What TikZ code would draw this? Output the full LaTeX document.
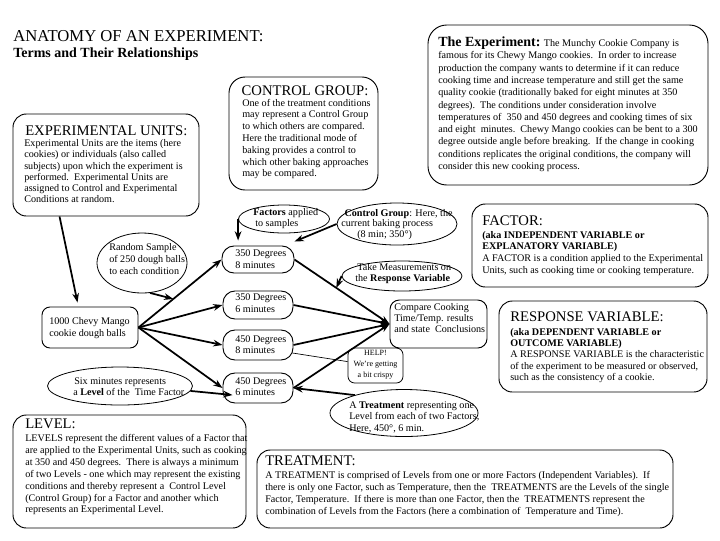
\documentclass[tikz,border=0pt]{standalone}
\usepackage{fontspec}
\setmainfont{Liberation Serif}
\usetikzlibrary{arrows.meta,calc,fit,shapes.geometric}
\newcommand{\Lft}[1]{\vtop{\halign{##\hfil\cr#1\crcr}}}
\newcommand{\Ctr}[1]{\vtop{\halign{\hfil##\hfil\cr#1\crcr}}}
\tikzset{
  rbox/.style={draw, line width=0.7pt, rounded corners=10pt, inner sep=0pt},
  ell/.style={draw, ellipse, line width=0.6pt, inner sep=0pt},
  txt/.style={inner sep=0pt, anchor=base west},
  ttl/.style={inner sep=0pt, anchor=base west, font=\fontsize{11}{13}\selectfont},
  arr/.style={line width=1.3pt, -{Stealth[length=7pt,width=5pt]}},
}
\begin{document}
\begin{tikzpicture}[x=0.75pt,y=-0.75pt]
\fill[white] (0,0) rectangle (720,540);
\useasboundingbox (0,0) rectangle (720,540);

% titles
\node[txt, font=\fontsize{12.5}{14}\selectfont] (t1) at (13,41.7) {ANATOMY OF AN EXPERIMENT:};
\node[txt, font=\bfseries\fontsize{10.5}{12}\selectfont] (t2) at (13,57) {Terms and Their Relationships};

% The experiment
\node[rbox, rounded corners=14pt, fit={(428,25) (708,185)}] (exp) {};
\node[txt, font=\fontsize{7.6}{9.2}\selectfont] (expt) at (438,46.7) {\Lft{%
{\bfseries\fontsize{10.5}{12}\selectfont The Experiment:} The Munchy Cookie Company is\cr
famous for its Chewy Mango cookies.\ \ In order to increase\cr
production the company wants to determine if it can reduce\cr
cooking time and increase temperature and still get the same\cr
quality cookie (traditionally baked for eight minutes at 350\cr
degrees).\ \ The conditions under consideration involve\cr
temperatures of \ 350 and 450 degrees and cooking times of six\cr
and eight \ minutes.\ \ Chewy Mango cookies can be bent to a 300\cr
degree outside angle before breaking.\ \ If the change in cooking\cr
conditions replicates the original conditions, the company will\cr
consider this new cooking process.}};

% Control group
\node[rbox, rounded corners=12pt, fit={(229,77) (378,190)}] (cgb) {};
\node[inner sep=0pt, anchor=base, font=\fontsize{11}{13}\selectfont] (cgtitle) at (305,95.7) {CONTROL GROUP:};
\node[txt, font=\fontsize{7.6}{8.85}\selectfont] (cgtext) at (242,106) {\Lft{%
One of the treatment conditions\cr
may represent a Control Group\cr
to which others are compared.\cr
Here the traditional mode of\cr
baking provides a control to\cr
which other baking approaches\cr
may be compared.}};

% Experimental units
\node[rbox, fit={(13,114) (199,216)}] (eu) {};
\node[ttl] (eutitle) at (25,135) {EXPERIMENTAL UNITS:};
\node[txt, font=\fontsize{7.6}{8.4}\selectfont] (eutext) at (24,146.7) {\Lft{%
Experimental Units are the items (here\cr
cookies) or individuals (also called\cr
subjects) upon which the experiment is\cr
performed.\ \ Experimental Units are\cr
assigned to Control and Experimental\cr
Conditions at random.}};

% Factor
\node[rbox, fit={(472,204) (708,287)}] (fac) {};
\node[ttl] (factitle) at (482,225) {FACTOR:};
\node[txt, font=\fontsize{7.6}{8.75}\selectfont] (factext) at (482,238) {\Lft{%
\textbf{(aka INDEPENDENT VARIABLE or}\cr
\textbf{EXPLANATORY VARIABLE)}\cr
A FACTOR is a condition applied to the Experimental\cr
Units, such as cooking time or cooking temperature.}};

% Response variable
\node[rbox, fit={(499,301) (707,392)}] (resp) {};
\node[ttl] (resptitle) at (510,321.7) {RESPONSE VARIABLE:};
\node[txt, font=\fontsize{7.6}{8.6}\selectfont] (resptext) at (510,335) {\Lft{%
\textbf{(aka DEPENDENT VARIABLE or}\cr
\textbf{OUTCOME VARIABLE)}\cr
A RESPONSE VARIABLE is the characteristic\cr
of the experiment to be measured or observed,\cr
such as the consistency of a cookie.}};

% Level
\node[rbox, fit={(13,415) (246,528)}] (lev) {};
\node[ttl] (levtitle) at (25,428) {LEVEL:};
\node[txt, font=\fontsize{7.6}{8.9}\selectfont] (levtext) at (25,441.7) {\Lft{%
LEVELS represent the different values of a Factor that\cr
are applied to the Experimental Units, such as cooking\cr
at 350 and 450 degrees.\ \ There is always a minimum\cr
of two Levels - one which may represent the existing\cr
conditions and thereby represent a \ Control Level\cr
(Control Group) for a Factor and another which\cr
represents an Experimental Level.}};

% Treatment
\node[rbox, fit={(257,450) (673,528)}] (trt) {};
\node[ttl] (trttitle) at (265,465) {TREATMENT:};
\node[txt, font=\fontsize{7.6}{9}\selectfont] (trttext) at (265,478) {\Lft{%
A TREATMENT is comprised of Levels from one or more Factors (Independent Variables).\ \ If\cr
there is only one Factor, such as Temperature, then the \ TREATMENTS are the Levels of the single\cr
Factor, Temperature.\ \ If there is more than one Factor, then the \ TREATMENTS represent the\cr
combination of Levels from the Factors (here a combination of \ Temperature and Time).}};

% Mango box
\node[rbox, rounded corners=6pt, fit={(42,307) (138,348)}] (mango) {};
\node[txt, font=\fontsize{7.6}{9}\selectfont] (mangot) at (49,324) {\Lft{1000 Chevy Mango\cr cookie dough balls}};

% degree boxes
\node[rbox, rounded corners=9pt, fit={(222,246) (294,273)}] (b1) {};
\node[rbox, rounded corners=9pt, fit={(223,291) (293,319)}] (b2) {};
\node[rbox, rounded corners=9pt, fit={(223,330) (293,360)}] (b3) {};
\node[rbox, rounded corners=9pt, fit={(223,373) (293,403)}] (b4) {};
\node[txt, font=\fontsize{7.6}{8.5}\selectfont] (b1t) at (235,256.7) {\Lft{350 Degrees\cr 8 minutes}};
\node[txt, font=\fontsize{7.6}{8.5}\selectfont] (b2t) at (235,300.7) {\Lft{350 Degrees\cr 6 minutes}};
\node[txt, font=\fontsize{7.6}{8.5}\selectfont] (b3t) at (235,342.3) {\Lft{450 Degrees\cr 8 minutes}};
\node[txt, font=\fontsize{7.6}{8.5}\selectfont] (b4t) at (235,384.3) {\Lft{450 Degrees\cr 6 minutes}};

% compare box
\node[rbox, rounded corners=7pt, fit={(390,300) (487,348)}] (cmp) {};
\node[txt, font=\fontsize{7.6}{8.6}\selectfont] (cmpt) at (394,310) {\Lft{Compare Cooking\cr Time/Temp. results\cr and state \ Conclusions}};

% help box
\node[rbox, rounded corners=5pt, line width=0.6pt, fit={(348,348) (403,383)}] (help) {};
\node[inner sep=0pt, anchor=base, font=\fontsize{6}{8.3}\selectfont] (helpt) at (375.5,355) {\Ctr{HELP!\cr We're getting\cr a bit crispy}};

% ellipses
\node[ell, minimum width=68.25pt, minimum height=21pt] (fa) at (284,219) {};
\node[txt, font=\fontsize{7.6}{8}\selectfont] (fat) at (253,215.7) {\Lft{\textbf{Factors} applied\cr \hskip1.5pt to samples}};
\node[ell, minimum width=90pt, minimum height=31.5pt] (cg) at (397,224) {};
\node[txt, font=\fontsize{7.6}{8.1}\selectfont] (cgt) at (341,216) {\Lft{\hskip2.5pt\textbf{Control Group}: Here, the\cr current baking process\cr \hskip12pt (8 min; 350°)}};
\node[ell, minimum width=90pt, minimum height=22.5pt] (tm) at (402,276) {};
\node[txt, font=\fontsize{7.6}{8.8}\selectfont] (tmt) at (355,270) {\Lft{\hskip1.5pt Take Measurements on\cr the \textbf{Response Variable}}};
\node[ell, minimum width=67.5pt, minimum height=45pt] (rs) at (142,263) {};
\node[txt, font=\fontsize{7.6}{9}\selectfont] (rst) at (109,250.7) {\Lft{Random Sample\cr of 250 dough balls\cr to each condition}};
\node[ell, minimum width=108.75pt, minimum height=28.5pt] (sm) at (120,386) {};
\node[txt, font=\fontsize{7.6}{8.8}\selectfont] (smt) at (73,384) {\Lft{\hskip0.75pt Six minutes represents\cr a \textbf{Level} of the \ Time Factor}};
\node[ell, minimum width=111pt, minimum height=35.25pt] (tr) at (404,413) {};
\node[txt, font=\fontsize{7.6}{8.85}\selectfont] (trt2) at (349,408) {\Lft{A \textbf{Treatment} representing one\cr Level from each of two Factors,\cr Here, 450°, 6 min.}};

% connectors
\coordinate (eutip) at ($(mango.north west)+(36,-4)$);
\draw[arr] ($(eu.south west)+(47,0)$) -- (eutip);
\draw[arr] (mango.east) -- (b1.west);
\draw[arr] (mango.east) -- (b2.west);
\draw[arr] (mango.east) -- (b3.west);
\draw[arr] (mango.east) -- (b4.west);
\draw[arr] (rs.-75) -- ($(mango.east)!0.42!(b1.west)$);
\draw[arr] (sm.-4) -- ($(b4.west)+(10,7)$);
\coordinate (fatip) at ($(b1.north west)+(16,-5)$);
\draw[arr] (fa.west) -- (fa.west |- fatip);
\draw[arr] (cg.west) -- ($(b1.north east)+(0,-4)$);
\draw[arr] (b1.east) -- (cmp.west);
\draw[arr] (b2.east) -- (cmp.west);
\draw[arr] (b3.east) -- (cmp.west);
\draw[arr] (b4.east) -- (cmp.west);
\draw[arr] (tm.west) -- ($(b1.east)!0.44!(cmp.west)$);
\draw[arr] (tr.160) -- (b4.east);
\draw[line width=0.5pt] ($(b3.east)+(-1,8)$) -- ($(help.north west)+(0,14)$);
\end{tikzpicture}
\end{document}
